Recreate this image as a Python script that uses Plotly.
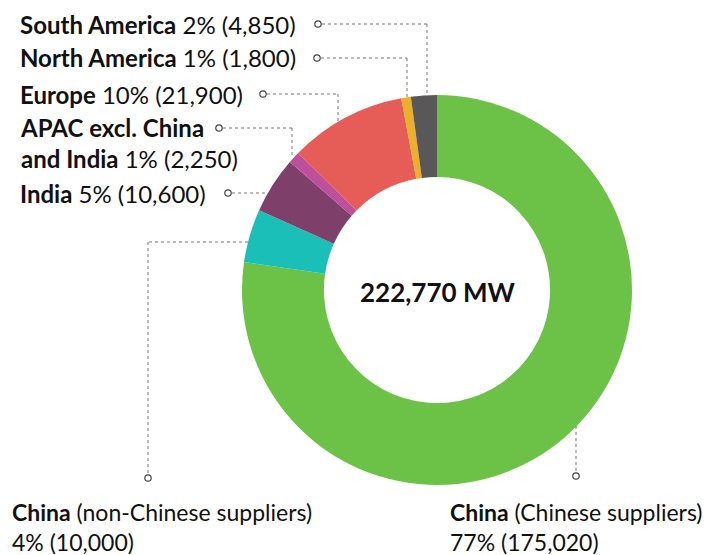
import plotly.graph_objects as go

# page body has an 8px margin: draw in reference pixel coords, shift by it
OFF = 8
W, H = 715 - OFF, 555 - OFF

regions = ["China (Chinese suppliers)", "China (non-Chinese suppliers)", "India",
           "APAC excl. China and India", "Europe", "North America", "South America"]
capacity_mw = [175020, 10000, 10600, 2250, 21900, 1800, 4850]
share_pct = [77, 4, 5, 1, 10, 1, 2]
colors = ["#6BC247", "#1ABFB8", "#7E3F6B", "#BD4F9D", "#E65D58", "#EDAE2B", "#595758"]
total_label = "222,770 MW"

FONT = "Lato"
FS = 24
TXT = "#111111"


def px(x):
    return (x - OFF) / W


def py(y):
    return 1 - (y - OFF) / H


cx, cy, R = 437, 290, 195

fig = go.Figure(go.Pie(
    labels=regions,
    values=capacity_mw,
    marker=dict(colors=colors, line=dict(width=0)),
    hole=0.58,
    sort=False,
    direction="clockwise",
    rotation=0,
    textinfo="none",
    hoverinfo="skip",
    domain=dict(x=[px(cx - R), px(cx + R)], y=[py(cy + R), py(cy - R)]),
))

annotations = []
shapes = []


def fmt(v):
    return f"{v:,}"


def label(x, y, text, size=FS, anchor="left"):
    annotations.append(dict(x=px(x), y=py(y), xref="paper", yref="paper", text=text,
                            showarrow=False, xanchor=anchor, yanchor="middle",
                            font=dict(family=FONT, size=size, color=TXT), align="left"))


def line(pts):
    for (x0, y0), (x1, y1) in zip(pts[:-1], pts[1:]):
        shapes.append(dict(type="line", xref="paper", yref="paper",
                           x0=px(x0), y0=py(y0), x1=px(x1), y1=py(y1),
                           line=dict(color="#777777", width=1, dash="dot")))


def dot(x, y, r=3.2):
    shapes.append(dict(type="circle", xref="paper", yref="paper",
                       x0=px(x - r), x1=px(x + r), y0=py(y + r), y1=py(y - r),
                       fillcolor="white", line=dict(color="#444444", width=1.2)))


# South America
label(18, 24, f"<b>South America</b> {share_pct[6]}% ({fmt(capacity_mw[6])})")
line([(322, 24), (427, 24), (427, 96)])
dot(318, 24)
# North America
label(18, 58, f"<b>North America</b> {share_pct[5]}% ({fmt(capacity_mw[5])})")
line([(321, 58), (407, 58), (407, 98)])
dot(317, 58)
# Europe
label(18, 94, f"<b>Europe</b> {share_pct[4]}% ({fmt(capacity_mw[4])})")
line([(267, 94), (338, 94), (338, 121)])
dot(263, 94)
# APAC
label(18, 143, f"<b>APAC excl. China<br>and India</b> {share_pct[3]}% ({fmt(capacity_mw[3])})")
line([(223, 128), (292, 128), (292, 158)])
dot(219, 128)
# India
label(18, 193, f"<b>India</b> {share_pct[2]}% ({fmt(capacity_mw[2])})")
line([(232, 193), (266, 193)])
dot(228, 193)
# China non-Chinese
label(10, 527, f"<b>China</b> (non-Chinese suppliers)<br>{share_pct[1]}% ({fmt(capacity_mw[1])})", size=23)
line([(248, 242), (148, 242), (148, 474)])
dot(148, 478)
# China Chinese
label(448, 527, f"<b>China</b> (Chinese suppliers)<br>{share_pct[0]}% ({fmt(capacity_mw[0])})", size=23)
line([(576, 426), (576, 472)])
dot(576, 476)

annotations.append(dict(x=px(cx), y=py(292), xref="paper", yref="paper", text=f"<b>{total_label}</b>",
                        showarrow=False, xanchor="center", yanchor="middle",
                        font=dict(family=FONT, size=26, color=TXT)))

fig.update_layout(
    width=W, height=H,
    margin=dict(l=0, r=0, t=0, b=0),
    paper_bgcolor="white", plot_bgcolor="white",
    showlegend=False,
    annotations=annotations,
    shapes=shapes,
)

fig.write_html("out.html")
